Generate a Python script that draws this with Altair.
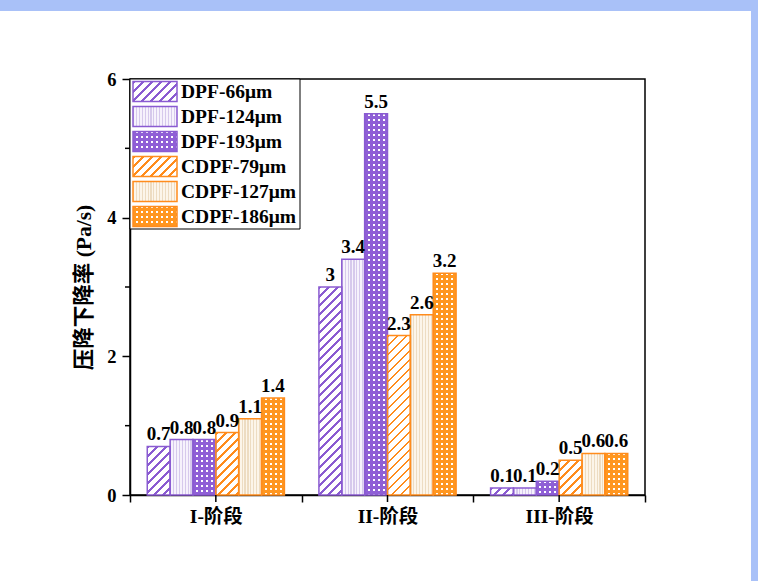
import altair as alt

# ---- data -------------------------------------------------------------
stages = ["I-阶段", "II-阶段", "III-阶段"]
series = ["DPF-66μm", "DPF-124μm", "DPF-193μm", "CDPF-79μm", "CDPF-127μm", "CDPF-186μm"]
dpf_66 = [0.7, 3.0, 0.1]
dpf_124 = [0.8, 3.4, 0.1]
dpf_193 = [0.8, 5.5, 0.2]
cdpf_79 = [0.9, 2.3, 0.5]
cdpf_127 = [1.1, 2.6, 0.6]
cdpf_186 = [1.4, 3.2, 0.6]
values_by_series = [dpf_66, dpf_124, dpf_193, cdpf_79, cdpf_127, cdpf_186]
y_ticks = [0, 2, 4, 6]
y_minor = [1, 3, 5]
y_title = "压降下降率 (Pa/s)"

# ---- styling ----------------------------------------------------------
FONT = "Liberation Serif, Noto Sans CJK SC, serif"
PURPLE = "#8a5bd1"
ORANGE = "#ff8c1c"
FRAME_BLUE = "#a9c1f8"
PLOT_W, PLOT_H, Y_MAX = 515, 416, 6
OFFSET_PAD = 0.755
BAR_W = (PLOT_W / len(stages)) / (len(series) + 2 * OFFSET_PAD)

# pattern kind and palette of each series
styles = {
    "DPF-66μm": ("hatch", PURPLE, "white", PURPLE),
    "DPF-124μm": ("lines", PURPLE, "#f6f2fc", "#d6c9ec"),
    "DPF-193μm": ("dots", PURPLE, "#8f5fd6", "white"),
    "CDPF-79μm": ("hatch", ORANGE, "white", ORANGE),
    "CDPF-127μm": ("lines", ORANGE, "#fcf5ea", "#eddcc2"),
    "CDPF-186μm": ("dots", ORANGE, "#ff961f", "white"),
}


def stripes(length, period, ink_share, ink, paper):
    """Hard-edged gradient stops giving evenly spaced stripes."""
    step = period / length
    stops = []
    k = 0
    while k * step < 1:
        s = k * step
        m = min(s + ink_share * step, 1)
        e = min(s + step, 1)
        stops += [{"offset": round(s, 5), "color": ink}, {"offset": round(m, 5), "color": ink}]
        if m < 1:
            stops += [{"offset": round(m, 5), "color": paper}, {"offset": round(e, 5), "color": paper}]
        k += 1
    return stops


def fills(kind, paper, ink, w, h):
    """Return (base fill, overlay fill) gradients for a w x h box."""
    if kind == "hatch":
        a = (w + h) * w / (w * w + h * h)
        base = {"gradient": "linear", "x1": 0, "y1": 0, "x2": a, "y2": a * h / w,
                "stops": stripes(w + h, 9.0, 0.32, ink, paper)}
        return base, None
    if kind == "lines":
        base = {"gradient": "linear", "x1": 0, "y1": 0, "x2": 1, "y2": 0,
                "stops": stripes(w, 2.9, 0.4, ink, paper)}
        return base, None
    # dots: white rows under a column mask
    base = {"gradient": "linear", "x1": 0, "y1": 0, "x2": 1e-6, "y2": 1,
            "stops": stripes(max(h, 1), 5.0, 0.4, ink, paper)}
    over = {"gradient": "linear", "x1": 0, "y1": 0, "x2": 1, "y2": 0,
            "stops": stripes(w, 5.0, 0.6, paper, "transparent")}
    return base, over


bar_rows = []
for name, vals in zip(series, values_by_series):
    kind, edge, paper, ink = styles[name]
    for stage, v in zip(stages, vals):
        h = v / Y_MAX * PLOT_H
        base, over = fills(kind, paper, ink, BAR_W, h)
        bar_rows.append({"stage": stage, "series": name, "value": v, "kind": kind,
                         "edge": edge, "grad": base, "grad2": over})

SW_W, SW_H = 44, 20
legend_rows = []
for name in series:
    kind, edge, paper, ink = styles[name]
    base, over = fills(kind, paper, ink, SW_W, SW_H)
    legend_rows.append({"name": name, "kind": kind, "edge": edge, "grad": base, "grad2": over})

bars = alt.Data(values=bar_rows)
legend_data = alt.Data(values=legend_rows)

# ---- shared encodings --------------------------------------------------
x_enc = alt.X("stage:N", sort=stages,
              scale=alt.Scale(domain=stages, paddingInner=0, paddingOuter=0),
              axis=alt.Axis(title=None, labelAngle=0, tickBand="extent", tickSize=7,
                            tickWidth=1.5, domainWidth=1.5, labelFontSize=19.5,
                            labelFontWeight="bold", labelPadding=5))
y_enc = alt.Y("value:Q", scale=alt.Scale(domain=[0, Y_MAX], nice=False),
              axis=alt.Axis(values=y_ticks, title=y_title, tickSize=8, tickWidth=1.5,
                            domainWidth=1.5, labelFontSize=18.5, labelFontWeight="bold",
                            labelPadding=6, titleFontSize=21.5, titleFontWeight="bold",
                            titlePadding=11, grid=False))
xo_enc = alt.XOffset("series:N", sort=series,
                     scale=alt.Scale(domain=series, paddingInner=0, paddingOuter=OFFSET_PAD))

base_bars = alt.Chart(bars).mark_bar(strokeWidth=0).encode(
    x=x_enc, y=y_enc, xOffset=xo_enc,
    fill=alt.Fill("grad:N", scale=None),
)
dot_mask = alt.Chart(bars).mark_bar(strokeWidth=0).encode(
    x=x_enc, y=y_enc, xOffset=xo_enc,
    fill=alt.Fill("grad2:N", scale=None),
).transform_filter("datum.kind == 'dots'")
outlines = alt.Chart(bars).mark_bar(fill="transparent", strokeWidth=1.5).encode(
    x=x_enc, y=y_enc, xOffset=xo_enc,
    stroke=alt.Stroke("edge:N", scale=None),
)
value_labels = alt.Chart(bars).mark_text(
    baseline="bottom", dy=-2, fontSize=19, fontWeight="bold", color="black"
).encode(
    x=x_enc, y=y_enc, xOffset=xo_enc,
    text=alt.Text("value:Q", format="~g"),
)
center_ticks = alt.Chart(alt.Data(values=[{"stage": s} for s in stages])).mark_rule(
    color="black", strokeWidth=1.5
).encode(x=x_enc, y=alt.value(PLOT_H), y2=alt.value(PLOT_H + 7))
minor_ticks = alt.Chart(alt.Data(values=[{"value": v} for v in y_minor])).mark_rule(
    color="black", strokeWidth=1.5
).encode(y=y_enc, x=alt.value(-5), x2=alt.value(0))

main = alt.layer(base_bars, dot_mask, outlines, value_labels, center_ticks, minor_ticks)

# ---- legend -----------------------------------------------------------
ly = alt.Y("name:N", sort=series, axis=None,
           scale=alt.Scale(domain=series, range=[0, 150], paddingInner=0.2, paddingOuter=0.1))
legend_box = alt.Chart(alt.Data(values=[{}])).mark_rect(
    fill="white", stroke="black", strokeWidth=1
).encode(x=alt.value(0), x2=alt.value(170), y=alt.value(0), y2=alt.value(150))
sw_base = alt.Chart(legend_data).mark_rect(strokeWidth=0).encode(
    y=ly, x=alt.value(3), x2=alt.value(3 + SW_W), fill=alt.Fill("grad:N", scale=None))
sw_mask = alt.Chart(legend_data).mark_rect(strokeWidth=0).encode(
    y=ly, x=alt.value(3), x2=alt.value(3 + SW_W), fill=alt.Fill("grad2:N", scale=None)
).transform_filter("datum.kind == 'dots'")
sw_edge = alt.Chart(legend_data).mark_rect(fill="transparent", strokeWidth=1.5).encode(
    y=ly, x=alt.value(3), x2=alt.value(3 + SW_W), stroke=alt.Stroke("edge:N", scale=None))
sw_text = alt.Chart(legend_data).mark_text(
    align="left", baseline="middle", fontSize=19.5, fontWeight="bold", color="black"
).encode(y=ly, x=alt.value(51), text="name:N")
legend = alt.layer(legend_box, sw_base, sw_mask, sw_edge, sw_text)

# page frame: blue bands along the top and right edges
frame_top = alt.Chart(alt.Data(values=[{}])).mark_rect(fill=FRAME_BLUE).encode(
    x=alt.value(-130), x2=alt.value(628), y=alt.value(-79), y2=alt.value(-68))
frame_right = alt.Chart(alt.Data(values=[{}])).mark_rect(fill=FRAME_BLUE).encode(
    x=alt.value(621), x2=alt.value(628), y=alt.value(-79), y2=alt.value(502))

chart = alt.layer(frame_top, frame_right, main, legend).resolve_scale(y="independent").properties(
    width=PLOT_W, height=PLOT_H, autosize="none",
    padding={"left": 130, "top": 79, "right": 113, "bottom": 86},
).configure(background="white", font=FONT).configure_view(
    stroke="black", strokeWidth=1.5
).configure_axis(
    labelFont=FONT, titleFont=FONT, labelColor="black", titleColor="black",
    domainColor="black", tickColor="black", zindex=1,
).configure_text(font=FONT)

chart.save("out.html", embed_options={"renderer": "svg", "actions": False})
